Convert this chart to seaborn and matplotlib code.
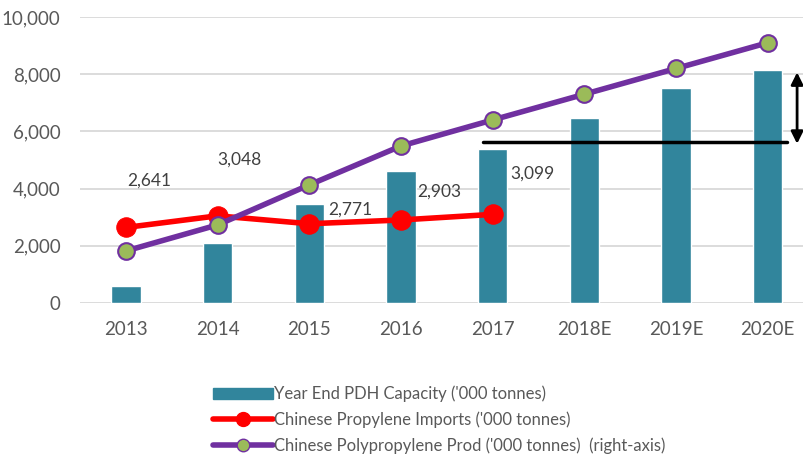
import matplotlib
matplotlib.use("Agg")
import matplotlib.pyplot as plt
import seaborn as sns
import numpy as np
import pandas as pd
from matplotlib.patches import Patch
from matplotlib.lines import Line2D

years = ["2013", "2014", "2015", "2016", "2017", "2018E", "2019E", "2020E"]
pdh_capacity = [600, 2100, 3460, 4620, 5380, 6470, 7520, 8160]
pp_prod = [1820, 2730, 4130, 5490, 6400, 7300, 8200, 9100]
imports = [2641, 3048, 2771, 2903, 3099]
import_labels = ["2,641", "3,048", "2,771", "2,903", "3,099"]
label_offsets = [(23, 47), (22, 56), (41, 14), (38, 28), (40, 41)]
gap_level = 5620

sns.set_theme(style="white")
plt.rcParams['font.family'] = ['Lato', 'DejaVu Sans']

fig = plt.figure(figsize=(8.04, 4.58), dpi=100)
ax = fig.add_axes([80/804, 1-303/458, 724/804, 286/458])

TEAL = "#31859C"
RED = "#FF0000"
PURPLE = "#7030A0"
GREEN = "#9BBB59"
GRAY = "#595959"

df = pd.DataFrame({"year": years, "cap": pdh_capacity})
sns.barplot(data=df, x="year", y="cap", color=TEAL, width=0.32,
            saturation=1, ax=ax, zorder=2)

xi = np.arange(len(years))
sns.lineplot(x=xi[:len(imports)], y=imports, ax=ax, color=RED, lw=4,
             marker="o", markersize=14, markerfacecolor=RED,
             markeredgecolor=RED, zorder=4)
sns.lineplot(x=xi, y=pp_prod, ax=ax, color=PURPLE, lw=4,
             marker="o", markersize=12, markerfacecolor=GREEN,
             markeredgecolor=PURPLE, markeredgewidth=1.5, zorder=5)

for i, (v, t) in enumerate(zip(imports, import_labels)):
    ax.annotate(t, (xi[i], v), xytext=label_offsets[i], textcoords="offset pixels",
                ha="center", va="center", fontsize=12.5, color="#404040")

# horizontal reference line and double arrow
ax.plot([3.89, 7.21], [gap_level, gap_level], color="black", lw=2.5, zorder=6)
ax.annotate("", xy=(7.32, pdh_capacity[-1]), xytext=(7.32, gap_level - 150),
            arrowprops=dict(arrowstyle="<|-|>", color="black", lw=2,
                            mutation_scale=18), annotation_clip=False)

ax.set_ylim(0, 10000)
ax.set_xlim(-0.5, -0.5 + 724/91.7)
ax.set_yticks(np.arange(0, 10001, 2000))
ax.set_yticklabels([f"{v:,}" for v in range(0, 10001, 2000)])
ax.grid(axis="y", color="#D9D9D9", lw=1.3, zorder=0)
ax.set_axisbelow(True)
for s in ax.spines.values():
    s.set_visible(False)
ax.tick_params(axis="both", length=0, labelsize=13.5, colors=GRAY)
ax.tick_params(axis="y", pad=14)
ax.tick_params(axis="x", pad=13)
ax.set_xlabel("")
ax.set_ylabel("")

handles = [
    Patch(facecolor=TEAL, edgecolor=TEAL),
    Line2D([], [], color=RED, lw=4, marker="o", markersize=10, markerfacecolor=RED, markeredgecolor=RED),
    Line2D([], [], color=PURPLE, lw=4, marker="o", markersize=9, markerfacecolor=GREEN, markeredgecolor=PURPLE),
]
labels = ["Year End PDH Capacity ('000 tonnes)",
          "Chinese Propylene Imports ('000 tonnes)",
          "Chinese Polypropylene Prod ('000 tonnes)  (right-axis)"]
fig.legend(handles, labels, loc="upper left", bbox_to_anchor=(206/804, 1-379/458),
           frameon=False, fontsize=12, labelcolor=GRAY, handlelength=3.6,
           handletextpad=0.1, labelspacing=0.55, borderaxespad=0)

fig.savefig("out.png", dpi=100)
